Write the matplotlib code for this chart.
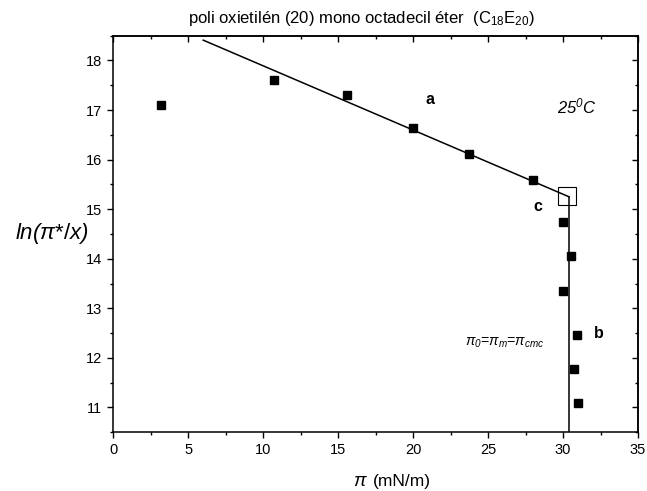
import matplotlib
matplotlib.use("Agg")
import matplotlib.pyplot as plt
from matplotlib.ticker import MultipleLocator

plt.rcParams['font.family'] = ['Liberation Sans', 'DejaVu Sans']
plt.rcParams['mathtext.fontset'] = 'custom'
plt.rcParams['mathtext.rm'] = 'Liberation Sans:italic'
plt.rcParams['mathtext.it'] = 'Liberation Sans:italic'
plt.rcParams['mathtext.sf'] = 'Liberation Sans'
plt.rcParams['mathtext.bf'] = 'Liberation Sans:bold'

# data (pi in mN/m, ln(pi*/x))
pi_vals = [3.2, 10.7, 15.6, 20.0, 23.7, 28.0, 30.0, 30.55, 30.0, 30.9, 30.75, 31.0]
ln_vals = [17.11, 17.61, 17.30, 16.64, 16.11, 15.59, 14.74, 14.05, 13.35, 12.47, 11.77, 11.09]

# fitted lines
line_a_x = [6.0, 30.4]
line_a_y = [18.41, 15.25]
line_b_x = [30.4, 30.4]
line_b_y = [15.25, 10.5]

# breakpoint marker
break_x = [30.25]
break_y = [15.26]

title = r"poli oxietilén (20) mono octadecil éter  (C$_{\mathsf{18}}$E$_{\mathsf{20}}$)"

fig = plt.figure(figsize=(6.47, 4.91), dpi=100)
ax = fig.add_axes([0.1751, 0.1196, 0.8110, 0.8077])

ax.plot(line_a_x, line_a_y, color='black', lw=1.1)
ax.plot(line_b_x, line_b_y, color='black', lw=1.1)
ax.plot(pi_vals, ln_vals, linestyle='none', marker='s', ms=5.3, color='black')
ax.plot(break_x, break_y, linestyle='none', marker='s', ms=12.5, mfc='none',
        mec='black', mew=0.8)

ax.set_xlim(0, 35)
ax.set_ylim(10.5, 18.5)
ax.xaxis.set_major_locator(MultipleLocator(5))
ax.xaxis.set_minor_locator(MultipleLocator(2.5))
ax.yaxis.set_major_locator(MultipleLocator(1))
ax.yaxis.set_minor_locator(MultipleLocator(0.5))

for s in ax.spines.values():
    s.set_linewidth(1.1)

ax.tick_params(axis='both', which='both', labelsize=10.5, width=1.0)
ax.tick_params(which='major', length=4.5)
ax.tick_params(which='minor', length=2.5)
ax.tick_params(axis='x', which='both', direction='out', top=False)
ax.tick_params(axis='y', which='both', direction='out', right=False)

# inward ticks on top and right
secx = ax.secondary_xaxis('top')
secx.xaxis.set_major_locator(MultipleLocator(5))
secx.xaxis.set_minor_locator(MultipleLocator(2.5))
secx.tick_params(which='both', direction='in', labeltop=False, width=1.0)
secx.tick_params(which='major', length=4.5)
secx.tick_params(which='minor', length=2.5)
secx.spines['top'].set_linewidth(1.1)
secy = ax.secondary_yaxis('right')
secy.yaxis.set_major_locator(MultipleLocator(1))
secy.yaxis.set_minor_locator(MultipleLocator(0.5))
secy.tick_params(which='both', direction='in', labelright=False, width=1.0)
secy.tick_params(which='major', length=4.5)
secy.tick_params(which='minor', length=2.5)
secy.spines['right'].set_linewidth(1.1)

fig.text(361 / 647, 1 - 18.5 / 491, title, ha='center', va='center', fontsize=12)

fig.text(15 / 647, 1 - 233 / 491, r'$ln(\pi$*/$x)$', ha='left', va='center',
         fontsize=16)
fig.text(368 / 647, 1 - 481.5 / 491, r'$\pi$', ha='right', va='center',
         fontsize=13.5)
fig.text(373 / 647, 1 - 481.5 / 491, '(mN/m)', ha='left', va='center',
         fontsize=12.5)

ax.text(21.1, 17.22, 'a', fontsize=11.5, fontweight='bold', ha='center', va='center')
ax.text(28.3, 15.05, 'c', fontsize=11.5, fontweight='bold', ha='center', va='center')
ax.text(32.4, 12.5, 'b', fontsize=11.5, fontweight='bold', ha='center', va='center')
ax.text(30.95, 17.07, r'25$^{0}$C', fontstyle='italic', fontsize=12,
        ha='center', va='center')
ax.text(26.1, 12.3, r'$\pi_{0}$=$\pi_m$=$\pi_{cmc}$', fontsize=10.2,
        ha='center', va='center')

fig.savefig('out.png', dpi=100)
